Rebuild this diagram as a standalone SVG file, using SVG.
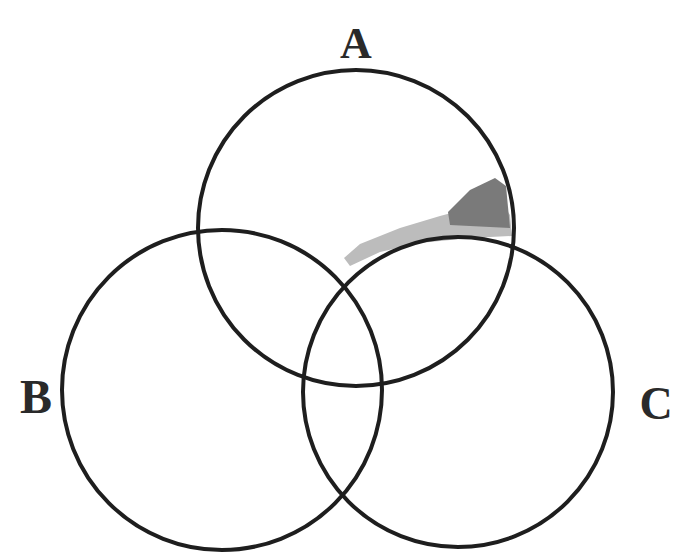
<svg xmlns="http://www.w3.org/2000/svg" width="688" height="557" viewBox="0 0 688 557">
<style>
.c{fill:none;stroke:#1e1e1e;stroke-width:4}
.t{font-family:"Liberation Serif",serif;font-weight:bold;fill:#2a2a2a}
</style>
<rect width="688" height="557" fill="#fff"/>
<g id="shade">
<path d="M344,258 L360,244 L400,228 L440,216 L470,208 L500,200 L510,215 L512,236 L470,238 L420,243 L380,252 L350,266 Z" fill="#bcbcbc"/>
<path d="M448,212 L470,190 L495,178 L506,186 L510,228 L450,225 Z" fill="#7a7a7a"/>
</g>
<g id="circleA"><circle class="c" cx="356" cy="228" r="158"/></g>
<g id="circleB"><circle class="c" cx="222" cy="390" r="160"/></g>
<g id="circleC"><circle class="c" cx="458" cy="392" r="155"/></g>
<g id="labelA"><text class="t" x="356" y="58" font-size="44" text-anchor="middle">A</text></g>
<g id="labelB"><text class="t" x="36" y="413" font-size="48" text-anchor="middle">B</text></g>
<g id="labelC"><text class="t" x="656" y="419" font-size="46" text-anchor="middle">C</text></g>
</svg>
